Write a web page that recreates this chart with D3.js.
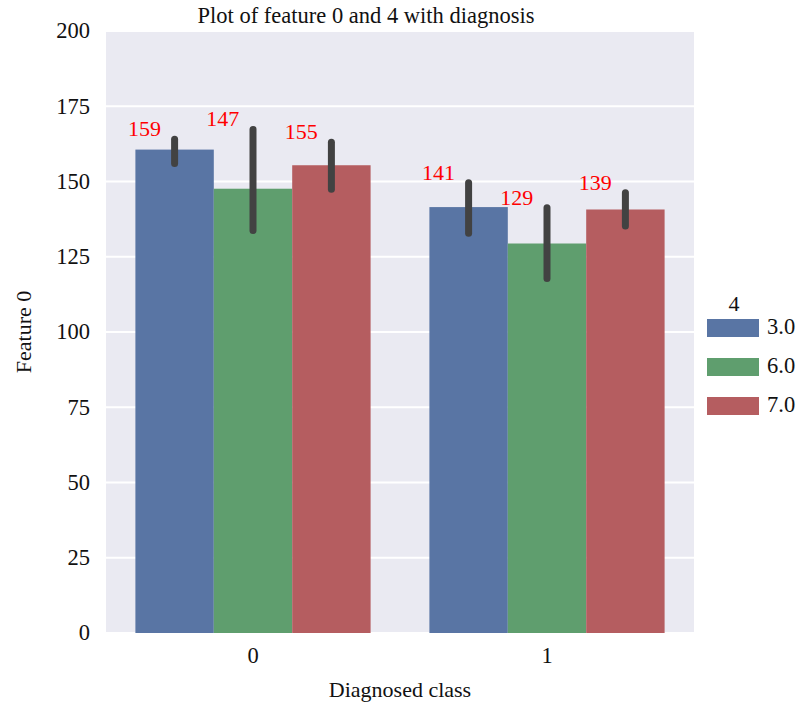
<!DOCTYPE html>
<html>
<head>
<meta charset="utf-8">
<script src="https://cdn.jsdelivr.net/npm/d3@7"></script>
<style>
  body { margin: 0; background: #fff; }
  text { font-family: "Liberation Serif", "Times New Roman", serif; }
</style>
</head>
<body>
<div id="main-container"></div>
<script>
// DATA
const classes = ["0", "1"];
const hues = ["3.0", "6.0", "7.0"];
const means = [[160.6, 147.6, 155.4], [141.5, 129.4, 140.7]];
const ciLow = [[156.0, 133.7, 147.4], [132.8, 117.8, 135.2]];
const ciHigh = [[164.0, 167.3, 163.0], [149.6, 141.3, 146.3]];
const labels = [["159", "147", "155"], ["141", "129", "139"]];
const yTicks = [0, 25, 50, 75, 100, 125, 150, 175, 200];
const colours = ["#5975a4", "#5f9e6e", "#b55d60"];

const width = 799, height = 704;
const plot = {left: 106, right: 694, top: 31, bottom: 633};

let svg = d3.select("#main-container")
    .append("svg")
        .attr("width", width)
        .attr("height", height);

let xAxis = d3.scaleBand()
    .range([plot.left, plot.right])
    .domain(classes)
    .padding(0);

let hueScale = d3.scaleBand()
    .range([0, xAxis.bandwidth() * 0.8])
    .domain(hues)
    .padding(0);

let yAxis = d3.scaleLinear()
    .range([plot.bottom, plot.top])
    .domain([0, 200]);

// background + grid
svg.append("rect")
    .attr("x", plot.left)
    .attr("y", plot.top)
    .attr("width", plot.right - plot.left)
    .attr("height", plot.bottom - plot.top)
    .style("fill", "#eaeaf2");

svg.append("g")
    .selectAll("line")
    .data(yTicks)
    .enter()
    .append("line")
    .attr("x1", plot.left)
    .attr("x2", plot.right)
    .attr("y1", (d) => yAxis(d))
    .attr("y2", (d) => yAxis(d))
    .style("stroke", "#fff")
    .style("stroke-width", 2);

// flatten for bars
const rows = [];
classes.forEach((c, i) => {
    hues.forEach((h, j) => {
        rows.push({cls: c, hue: h, j: j, mean: means[i][j], lo: ciLow[i][j], hi: ciHigh[i][j], label: labels[i][j]});
    });
});

const barX = (d) => xAxis(d.cls) + xAxis.bandwidth() * 0.1 + hueScale(d.hue);

svg.append("g")
    .selectAll("rect")
    .data(rows)
    .enter()
    .append("rect")
    .attr("x", barX)
    .attr("y", (d) => yAxis(d.mean))
    .attr("width", hueScale.bandwidth())
    .attr("height", (d) => yAxis(0) - yAxis(d.mean))
    .style("fill", (d) => colours[d.j]);

// error bars
svg.append("g")
    .selectAll("line")
    .data(rows)
    .enter()
    .append("line")
    .attr("x1", (d) => barX(d) + hueScale.bandwidth() / 2)
    .attr("x2", (d) => barX(d) + hueScale.bandwidth() / 2)
    .attr("y1", (d) => yAxis(d.lo))
    .attr("y2", (d) => yAxis(d.hi))
    .style("stroke", "#424242")
    .style("stroke-width", 7)
    .style("stroke-linecap", "round");

// value labels
svg.append("g")
    .selectAll("text")
    .data(rows)
    .enter()
    .append("text")
    .attr("x", (d) => barX(d) - 7.5)
    .attr("y", (d) => yAxis(d.hi) - 3)
    .style("fill", "red")
    .style("font-size", "22px")
    .text((d) => d.label);

// y ticks
svg.append("g")
    .selectAll("text")
    .data(yTicks)
    .enter()
    .append("text")
    .attr("x", plot.left - 16)
    .attr("y", (d) => yAxis(d))
    .attr("dy", "0.33em")
    .attr("text-anchor", "end")
    .style("font-size", "22.5px")
    .style("fill", "#111")
    .text((d) => d);

// x ticks
svg.append("g")
    .selectAll("text")
    .data(classes)
    .enter()
    .append("text")
    .attr("x", (d) => xAxis(d) + xAxis.bandwidth() / 2)
    .attr("y", 663)
    .attr("text-anchor", "middle")
    .style("font-size", "22.5px")
    .style("fill", "#111")
    .text((d) => d);

// titles
svg.append("text")
    .attr("x", 366)
    .attr("y", 23)
    .attr("text-anchor", "middle")
    .style("font-size", "22.5px")
    .style("fill", "#111")
    .text("Plot of feature 0 and 4 with diagnosis");

svg.append("text")
    .attr("x", (plot.left + plot.right) / 2)
    .attr("y", 697)
    .attr("text-anchor", "middle")
    .style("font-size", "22px")
    .style("fill", "#111")
    .text("Diagnosed class");

svg.append("text")
    .attr("transform", `translate(31, ${(plot.top + plot.bottom) / 2}) rotate(-90)`)
    .attr("text-anchor", "middle")
    .style("font-size", "22px")
    .style("fill", "#111")
    .text("Feature 0");

// legend
let legend = svg.append("g")
    .attr("transform", "translate(707, 319)");

legend.append("text")
    .attr("x", 27)
    .attr("y", -8)
    .attr("text-anchor", "middle")
    .style("font-size", "22px")
    .style("fill", "#111")
    .text("4");

legend.selectAll("rect")
    .data(hues)
    .enter()
    .append("rect")
    .attr("x", 0)
    .attr("y", (d, i) => i * 39)
    .attr("width", 52)
    .attr("height", 18)
    .style("fill", (d, i) => colours[i]);

legend.selectAll("text.lab")
    .data(hues)
    .enter()
    .append("text")
    .attr("class", "lab")
    .attr("x", 60)
    .attr("y", (d, i) => i * 39 + 15)
    .style("font-size", "22.5px")
    .style("fill", "#111")
    .text((d) => d);
</script>
</body>
</html>
